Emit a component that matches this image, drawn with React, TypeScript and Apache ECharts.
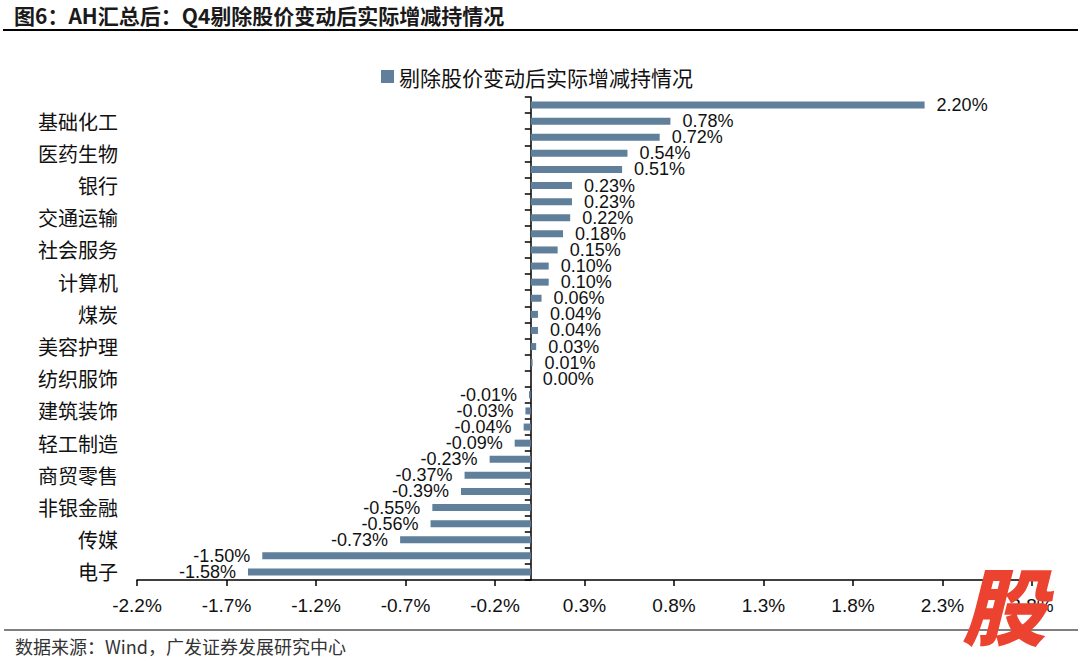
import React, { useEffect, useRef } from "react";
import * as echarts from "echarts";

const categories: string[] = [
  "有色金属", "基础化工", "电力设备", "医药生物", "汽车", "银行",
  "公用事业", "交通运输", "石油石化", "社会服务", "食品饮料", "计算机",
  "钢铁", "煤炭", "家用电器", "美容护理", "农林牧渔", "纺织服饰",
  "建筑材料", "建筑装饰", "环保", "轻工制造", "综合", "商贸零售",
  "通信", "非银金融", "国防军工", "传媒", "机械设备", "电子",
];

const values: number[] = [
  2.2, 0.78, 0.72, 0.54, 0.51, 0.23,
  0.23, 0.22, 0.18, 0.15, 0.1, 0.1,
  0.06, 0.04, 0.04, 0.03, 0.01, 0.0,
  -0.01, -0.03, -0.04, -0.09, -0.23, -0.37,
  -0.39, -0.55, -0.56, -0.73, -1.5, -1.58,
];

const xTicks: number[] = [-2.2, -1.7, -1.2, -0.7, -0.2, 0.3, 0.8, 1.3, 1.8, 2.3, 2.8];

const seriesName = "剔除股价变动后实际增减持情况";
const titleText = "图6：AH汇总后：Q4剔除股价变动后实际增减持情况";
const sourceText = "数据来源：Wind，广发证券发展研究中心";

const CJK = "'Noto Sans CJK SC', 'Noto Sans', sans-serif";
const LAT = "'Liberation Sans', Arial, sans-serif";

export default function App() {
  const ref = useRef<HTMLDivElement>(null);
  useEffect(() => {
    if (!ref.current) return;
    const chart = echarts.init(ref.current, null, { renderer: "svg" });
    chart.setOption({
      animation: false,
      backgroundColor: "#ffffff",
      legend: {
        data: [seriesName],
        left: 376,
        top: 61,
        icon: "rect",
        itemWidth: 13,
        itemHeight: 13,
        textStyle: { fontSize: 21, color: "#111", fontFamily: CJK },
      },
      grid: { left: 137, right: 48, top: 97, bottom: 83 },
      xAxis: {
        type: "value",
        min: -2.2,
        max: 2.8,
        splitLine: { show: false },
        axisLine: { show: true, onZero: false, lineStyle: { color: "#000", width: 1.5 } },
        axisTick: { show: true, length: 6, customValues: xTicks, lineStyle: { color: "#000", width: 1.5 } },
        axisLabel: {
          customValues: xTicks,
          formatter: (v: number) => v.toFixed(1) + "%",
          fontSize: 19,
          color: "#111",
          fontFamily: LAT,
          margin: 16,
        },
      },
      yAxis: [
        {
          type: "category",
          data: categories,
          inverse: true,
          axisLine: { show: true, onZero: true, lineStyle: { color: "#000", width: 1.5 } },
          axisTick: { show: true, interval: 0, length: 6, lineStyle: { color: "#000", width: 1.5 } },
          axisLabel: { show: false },
          splitLine: { show: false },
        },
        {
          type: "category",
          data: categories,
          inverse: true,
          position: "left",
          axisLine: { show: false, onZero: false },
          axisTick: { show: false },
          axisLabel: {
            show: true,
            interval: (i: number) => i % 2 === 1,
            fontSize: 20,
            color: "#111",
            fontFamily: CJK,
            margin: 19,
          },
          splitLine: { show: false },
        },
      ],
      series: [
        {
          name: seriesName,
          type: "bar",
          yAxisIndex: 0,
          barWidth: 7,
          itemStyle: { color: "#5F7F9A" },
          data: values.map((v) => ({
            value: v,
            label: { position: v < 0 ? "left" : "right" },
          })),
          label: {
            show: true,
            distance: 12,
            formatter: (p: any) => Number(p.value).toFixed(2) + "%",
            fontSize: 18,
            color: "#111",
            fontFamily: LAT,
          },
        },
      ],
      graphic: [
        {
          type: "text",
          left: 14,
          top: 4,
          style: { text: titleText, fontSize: 21, fontWeight: "bold", fill: "#1a1a1a", fontFamily: CJK },
        },
        {
          type: "line",
          shape: { x1: 3, y1: 30, x2: 1078, y2: 30 },
          style: { stroke: "#000", lineWidth: 2 },
        },
        {
          type: "line",
          shape: { x1: 4, y1: 630, x2: 1078, y2: 630 },
          style: { stroke: "#000", lineWidth: 1 },
        },
        {
          type: "text",
          left: 15,
          top: 637,
          style: { text: sourceText, fontSize: 18, fill: "#333", fontFamily: CJK },
        },
        {
          type: "text",
          left: 962,
          top: 560,
          z: 100,
          style: {
            text: "股",
            fontSize: 84,
            fontWeight: 900,
            fontStyle: "italic",
            fill: "#EC4330",
            fontFamily: CJK,
          },
        },
      ],
    });
    return () => chart.dispose();
  }, []);
  return (
    <div
      ref={ref}
      style={{ position: "fixed", left: 0, top: 0, width: 1080, height: 663, background: "#fff" }}
    />
  );
}
